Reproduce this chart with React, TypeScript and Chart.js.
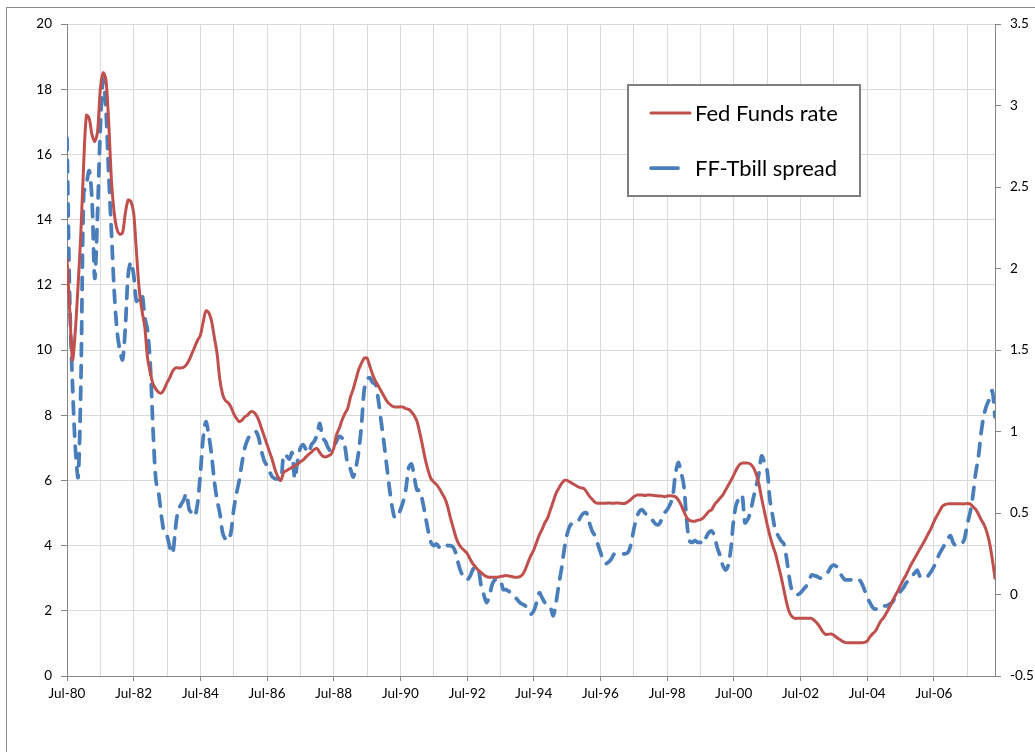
import { useEffect, useRef } from 'react';
import { Chart, registerables } from 'chart.js';

Chart.register(...registerables);

// Monthly observations starting Jul-1980 (index 0) through May-2008.
const xTickLabels = [
  'Jul-80', 'Jul-82', 'Jul-84', 'Jul-86', 'Jul-88', 'Jul-90', 'Jul-92',
  'Jul-94', 'Jul-96', 'Jul-98', 'Jul-00', 'Jul-02', 'Jul-04', 'Jul-06',
];

// Fed Funds rate, percent (left axis)
const fedFundsRate = [
  12.8, 11.2, 9.7, 10.6, 12.0, 13.6, 15.7, 17.2, 17.1, 16.6, 16.4, 16.7,
  18.0, 18.5, 18.3, 17.0, 15.2, 14.2, 13.7, 13.55, 13.6, 14.2, 14.6, 14.55,
  14.2, 13.0, 11.85, 11.2, 10.7, 9.75, 9.3, 8.95, 8.8, 8.7, 8.68, 8.8,
  9.0, 9.15, 9.35, 9.45, 9.45, 9.45, 9.47, 9.55, 9.7, 9.9, 10.1, 10.3,
  10.45, 10.85, 11.2, 11.15, 10.9, 10.4, 9.9, 9.1, 8.65, 8.45, 8.38, 8.25,
  8.05, 7.9, 7.8, 7.85, 7.95, 8.0, 8.1, 8.1, 8.02, 7.85, 7.6, 7.35,
  7.1, 6.85, 6.6, 6.3, 6.1, 6.0, 6.25, 6.3, 6.35, 6.4, 6.45, 6.5,
  6.57, 6.63, 6.72, 6.8, 6.87, 6.95, 6.98, 6.85, 6.75, 6.72, 6.75, 6.8,
  6.98, 7.4, 7.6, 7.85, 8.05, 8.2, 8.55, 8.8, 9.1, 9.4, 9.6, 9.75,
  9.75, 9.5, 9.25, 9.05, 8.9, 8.75, 8.6, 8.45, 8.35, 8.28, 8.25, 8.25,
  8.26, 8.25, 8.2, 8.18, 8.1, 7.98, 7.8, 7.45, 7.05, 6.63, 6.3, 6.05,
  5.95, 5.87, 5.75, 5.6, 5.45, 5.2, 4.85, 4.55, 4.25, 4.05, 3.93, 3.85,
  3.76, 3.6, 3.45, 3.35, 3.25, 3.18, 3.1, 3.05, 3.03, 3.03, 3.03, 3.03,
  3.05, 3.07, 3.08, 3.07, 3.05, 3.03, 3.03, 3.05, 3.12, 3.28, 3.5, 3.7,
  3.87, 4.1, 4.33, 4.5, 4.7, 4.85, 5.1, 5.35, 5.6, 5.76, 5.9, 6.0,
  6.0, 5.95, 5.9, 5.85, 5.8, 5.77, 5.75, 5.65, 5.52, 5.42, 5.33, 5.3,
  5.3, 5.3, 5.3, 5.31, 5.3, 5.3, 5.31, 5.3, 5.29, 5.3, 5.35, 5.42,
  5.5, 5.55, 5.55, 5.55, 5.54, 5.55, 5.55, 5.54, 5.53, 5.52, 5.52, 5.5,
  5.52, 5.53, 5.52, 5.5, 5.4, 5.25, 5.05, 4.87, 4.78, 4.75, 4.75, 4.78,
  4.8, 4.85, 4.95, 5.05, 5.1, 5.25, 5.35, 5.45, 5.55, 5.7, 5.85, 6.0,
  6.17, 6.35, 6.48, 6.53, 6.53, 6.53, 6.5, 6.4, 6.2, 5.9, 5.45, 5.05,
  4.65, 4.3, 4.0, 3.75, 3.4, 3.05, 2.65, 2.25, 1.95, 1.82, 1.77, 1.77,
  1.77, 1.77, 1.77, 1.77, 1.77, 1.7, 1.62, 1.5, 1.36, 1.28, 1.28, 1.29,
  1.25, 1.18, 1.13, 1.07, 1.03, 1.02, 1.02, 1.02, 1.02, 1.02, 1.02, 1.03,
  1.07, 1.2, 1.3, 1.38, 1.55, 1.7, 1.8, 1.95, 2.1, 2.28, 2.45, 2.6,
  2.78, 2.95, 3.1, 3.28, 3.45, 3.6, 3.75, 3.9, 4.05, 4.2, 4.37, 4.53,
  4.73, 4.9, 5.05, 5.2, 5.26, 5.28, 5.28, 5.28, 5.28, 5.28, 5.28, 5.28,
  5.29, 5.28, 5.2, 5.12, 4.97, 4.8, 4.65, 4.43, 4.1, 3.6, 3.0,
];

// Fed Funds minus T-bill spread, percentage points (right axis)
const ffTbillSpread = [
  2.8, 1.8, 1.28, 0.9, 0.72, 1.3, 2.46, 2.52, 2.6, 2.42, 1.94, 2.34,
  2.86, 3.16, 2.98, 2.58, 2.22, 1.86, 1.62, 1.5, 1.44, 1.64, 1.96, 2.04,
  1.96, 1.8, 1.82, 1.84, 1.7, 1.62, 1.4, 1.0, 0.7, 0.62, 0.48, 0.38,
  0.36, 0.29, 0.25, 0.4, 0.52, 0.55, 0.58, 0.62, 0.52, 0.5, 0.48, 0.56,
  0.74, 0.96, 1.06, 0.98, 0.86, 0.7, 0.58, 0.5, 0.38, 0.34, 0.33, 0.38,
  0.52, 0.62, 0.7, 0.81, 0.9, 0.95, 0.98, 0.99, 1.0, 0.96, 0.88, 0.82,
  0.79, 0.75, 0.72, 0.71, 0.71, 0.7, 0.86, 0.85, 0.83, 0.87, 0.71, 0.82,
  0.9, 0.92, 0.89, 0.87, 0.92, 0.94, 0.98, 1.05, 0.96, 0.94, 0.9, 0.88,
  0.91, 0.94, 0.97, 0.96, 0.91, 0.8, 0.77, 0.72, 0.78, 0.88, 1.04, 1.26,
  1.32, 1.33, 1.3, 1.29, 1.2, 1.07, 0.94, 0.8, 0.66, 0.54, 0.47, 0.48,
  0.52, 0.57, 0.65, 0.78, 0.8, 0.72, 0.64, 0.64, 0.57, 0.48, 0.39, 0.32,
  0.3, 0.31, 0.29, 0.3, 0.31, 0.3, 0.3, 0.29, 0.25, 0.18, 0.13, 0.1,
  0.09, 0.11, 0.15, 0.17, 0.16, 0.06, 0.0, -0.05, -0.01, 0.06, 0.09, 0.09,
  0.09, 0.03, 0.03, 0.02, 0.01, -0.01, -0.03, -0.05, -0.06, -0.07, -0.1, -0.12,
  -0.1, -0.05, 0.01, -0.02, -0.05, -0.06, -0.08, -0.13, -0.05, 0.06, 0.16, 0.28,
  0.37, 0.42, 0.44, 0.44, 0.45, 0.48, 0.5, 0.5, 0.44, 0.39, 0.36, 0.31,
  0.26, 0.21, 0.19, 0.2, 0.22, 0.25, 0.25, 0.25, 0.25, 0.25, 0.26, 0.31,
  0.4, 0.47, 0.51, 0.52, 0.5, 0.48, 0.47, 0.45, 0.43, 0.43, 0.46, 0.5,
  0.52, 0.55, 0.6, 0.74, 0.81, 0.75, 0.67, 0.46, 0.33, 0.32, 0.33, 0.32,
  0.32, 0.31, 0.35, 0.38, 0.39, 0.36, 0.29, 0.24, 0.18, 0.15, 0.18, 0.29,
  0.47, 0.56, 0.59, 0.61, 0.44, 0.46, 0.51, 0.59, 0.66, 0.74, 0.85, 0.81,
  0.76, 0.58, 0.48, 0.39, 0.36, 0.33, 0.31, 0.22, 0.1, 0.02, 0.01, 0.0,
  0.01, 0.03, 0.05, 0.08, 0.12, 0.116, 0.11, 0.1, 0.104, 0.12, 0.14, 0.17,
  0.18, 0.17, 0.14, 0.11, 0.09, 0.09, 0.09, 0.094, 0.1, 0.094, 0.07, 0.03,
  -0.02, -0.05, -0.08, -0.09, -0.07, -0.07, -0.07, -0.07, -0.06, -0.05, -0.02, 0.0,
  0.02, 0.04, 0.07, 0.09, 0.11, 0.13, 0.15, 0.11, 0.1, 0.104, 0.116, 0.14,
  0.17, 0.21, 0.25, 0.28, 0.31, 0.34, 0.36, 0.316, 0.3, 0.304, 0.31, 0.34,
  0.43, 0.5, 0.6, 0.74, 0.84, 0.99, 1.1, 1.16, 1.2, 1.25, 1.09,
];

const RED = '#C0504D';
const BLUE = '#4A7EBB';
const GRID = '#D9D9D9';
const AXIS = '#868686';
const FONT = 'Lato, "Open Sans", sans-serif';

// Boxed legend drawn inside the plot area, upper right
const boxLegend = {
  id: 'boxLegend',
  afterDraw(chart: any) {
    const { ctx } = chart;
    const left = 628;
    const top = 85;
    const w = 232;
    const h = 111;
    ctx.save();
    ctx.fillStyle = '#ffffff';
    ctx.fillRect(left, top, w, h);
    ctx.strokeStyle = '#7f7f7f';
    ctx.lineWidth = 2;
    ctx.strokeRect(left, top, w, h);
    const rows = [113, 168];
    const sampleEnd = [690, 678];
    chart.data.datasets.forEach((ds: any, i: number) => {
      const y = rows[i];
      ctx.strokeStyle = ds.borderColor;
      ctx.lineWidth = ds.borderWidth;
      ctx.lineCap = 'round';
      ctx.setLineDash([]);
      ctx.beginPath();
      ctx.moveTo(651, y);
      ctx.lineTo(sampleEnd[i], y);
      ctx.stroke();
      ctx.fillStyle = '#000000';
      ctx.font = `22px ${FONT}`;
      ctx.textBaseline = 'middle';
      ctx.textAlign = 'left';
      ctx.fillText(ds.label, 695, y + 1);
    });
    ctx.restore();
  },
};

export default function App() {
  const canvasRef = useRef<HTMLCanvasElement | null>(null);

  useEffect(() => {
    const canvas = canvasRef.current;
    if (!canvas) return;
    const months = fedFundsRate.map((_, i) => i);

    const chart = new Chart(canvas, {
      type: 'line',
      data: {
        datasets: [
          {
            label: 'Fed Funds rate',
            data: months.map((m) => ({ x: m, y: fedFundsRate[m] })),
            yAxisID: 'y',
            borderColor: RED,
            borderWidth: 3,
            pointRadius: 0,
            tension: 0.3,
            borderCapStyle: 'round',
            borderJoinStyle: 'round',
          },
          {
            label: 'FF-Tbill spread',
            data: months.map((m) => ({ x: m, y: ffTbillSpread[m] })),
            yAxisID: 'y1',
            borderColor: BLUE,
            borderWidth: 3.75,
            borderDash: [12, 10],
            pointRadius: 0,
            tension: 0.3,
            borderCapStyle: 'round',
            borderJoinStyle: 'round',
          },
        ],
      },
      options: {
        responsive: false,
        animation: false,
        layout: { padding: { top: 24, left: 0, right: 0, bottom: 0 } },
        plugins: {
          legend: { display: false },
          tooltip: { enabled: false },
        },
        scales: {
          x: {
            type: 'linear',
            min: 0,
            max: fedFundsRate.length - 1,
            afterFit: (scale: any) => {
              scale.height = 76;
            },
            ticks: {
              stepSize: 12,
              includeBounds: false,
              autoSkip: false,
              maxRotation: 0,
              padding: 5,
              color: '#000000',
              font: { family: FONT, size: 13.5 },
              callback: (value: any) => {
                const v = Number(value);
                return v % 24 === 0 ? xTickLabels[v / 24] ?? '' : '';
              },
            },
            grid: {
              color: GRID,
              lineWidth: 1,
              tickLength: 5,
              tickColor: (ctx: any) =>
                ctx.tick && ctx.tick.value % 24 === 0 ? AXIS : 'rgba(0,0,0,0)',
            },
            border: { color: AXIS, width: 1 },
          },
          y: {
            type: 'linear',
            position: 'left',
            min: 0,
            max: 20,
            afterFit: (scale: any) => {
              scale.width = 67;
            },
            ticks: {
              stepSize: 2,
              padding: 9,
              color: '#000000',
              font: { family: FONT, size: 13.5 },
            },
            grid: { color: GRID, lineWidth: 1, tickLength: 6, tickColor: AXIS },
            border: { color: AXIS, width: 1 },
          },
          y1: {
            type: 'linear',
            position: 'right',
            min: -0.5,
            max: 3.5,
            afterFit: (scale: any) => {
              scale.width = 40;
            },
            ticks: {
              stepSize: 0.5,
              padding: 9,
              color: '#000000',
              font: { family: FONT, size: 13.5 },
              callback: (value: any) => String(Math.round(Number(value) * 10) / 10),
            },
            grid: { drawOnChartArea: false, tickLength: 6, tickColor: AXIS },
            border: { color: AXIS, width: 1 },
          },
        },
      },
      plugins: [boxLegend],
    });

    return () => chart.destroy();
  }, []);

  return (
    <div
      style={{
        position: 'absolute',
        left: 0,
        top: 0,
        width: 1035,
        height: 752,
        overflow: 'hidden',
        background: '#ffffff',
      }}
    >
      <canvas
        ref={canvasRef}
        width={1035}
        height={752}
        style={{ position: 'absolute', left: 0, top: 0, width: 1035, height: 752 }}
      />
      <div
        style={{
          position: 'absolute',
          left: 6,
          top: 7,
          width: 1100,
          height: 800,
          border: '1px solid #8c8c8c',
          pointerEvents: 'none',
        }}
      />
    </div>
  );
}
